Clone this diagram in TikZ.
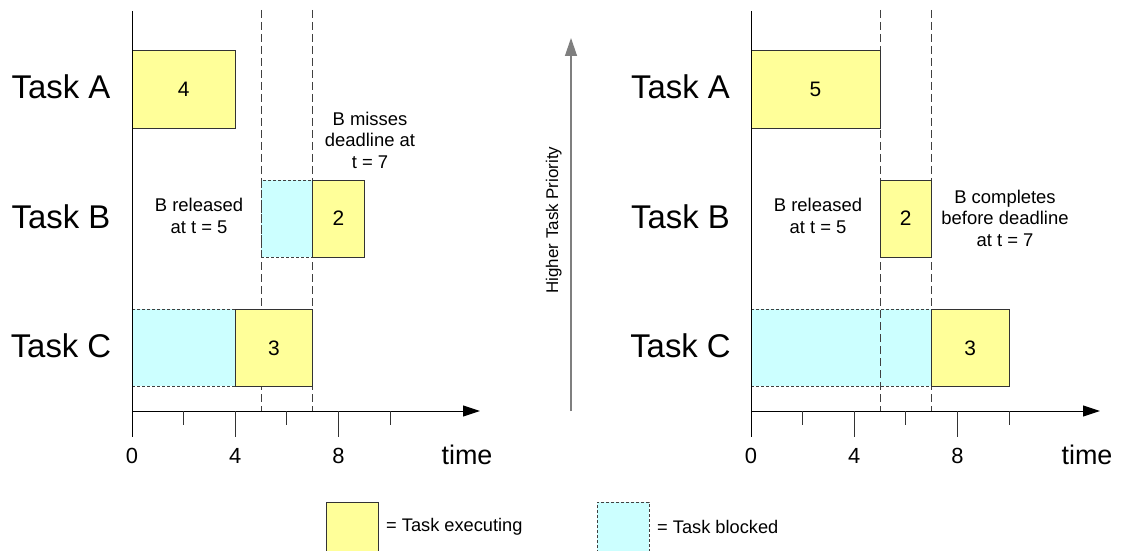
\documentclass[tikz,border=0pt]{standalone}
\usepackage{fontspec}
\setmainfont{Liberation Sans}
\usetikzlibrary{arrows.meta}

\definecolor{execfill}{HTML}{FFFF99}
\definecolor{blockfill}{HTML}{CCFFFF}
\definecolor{edgedark}{HTML}{333333}
\definecolor{guidegray}{HTML}{404040}
\definecolor{prioritygray}{HTML}{7F7F7F}

\tikzset{
  execbox/.style={draw=edgedark, line width=0.9bp, fill=execfill, inner sep=0pt},
  blockbox/.style={draw=guidegray, line width=0.8bp, dash pattern=on 3bp off 2bp,
    fill=blockfill, inner sep=0pt},
  guide/.style={draw=guidegray, line width=0.9bp, dash pattern=on 8bp off 4bp},
  axisline/.style={draw=black, line width=1bp},
  timearrow/.style={axisline, -{Triangle[length=17bp,width=11bp]}},
  majortick/.style={draw=black!80, line width=0.9bp},
  tasklabel/.style={anchor=base, inner sep=0pt, font=\fontsize{33}{38}\selectfont},
  boxnum/.style={anchor=base, inner sep=0pt, font=\fontsize{21}{24}\selectfont},
  ticklabel/.style={anchor=base, inner sep=0pt, font=\fontsize{22}{26}\selectfont},
  timelabel/.style={anchor=base, inner sep=0pt, font=\fontsize{27}{30}\selectfont},
  note/.style={align=center, inner sep=0pt, font=\fontsize{18.5}{21.5}\selectfont},
  legendtext/.style={anchor=west, inner sep=0pt, font=\fontsize{18.3}{21}\selectfont},
}

\begin{document}
\begin{tikzpicture}[x=1bp, y=-1bp]
\clip (0,0) rectangle (1122,551);
\fill[white] (0,0) rectangle (1122,551);

% ---------- left schedule: A runs first, B misses its deadline ----------
\begin{scope}[shift={(132,0)}]
  \def\u{25.8}
  % blocked intervals
  \node[blockbox, minimum width={2*\u bp}, minimum height=77bp] (LBb) at (6*\u,218.5) {};
  \node[blockbox, minimum width={4*\u bp}, minimum height=77bp] (LCb) at (2*\u,347.5) {};
  % release and deadline guides
  \coordinate (L5top) at (5*\u,10);  \coordinate (L5bot) at (5*\u,411);
  \coordinate (L7top) at (7*\u,10);  \coordinate (L7bot) at (7*\u,411);
  \draw[guide] (L5top) -- (L5bot);
  \draw[guide] (L7top) -- (L7bot);
  % executing intervals
  \node[execbox, minimum width={4*\u bp}, minimum height=78bp] (LA) at (2*\u,89) {};
  \node[boxnum] at ([yshift=-7.5bp]LA.center) {4};
  \node[execbox, minimum width={2*\u bp}, minimum height=77bp] (LBe) at (8*\u,218.5) {};
  \node[boxnum] at ([yshift=-7.5bp]LBe.center) {2};
  \node[execbox, minimum width={3*\u bp}, minimum height=77bp] (LCe) at (5.5*\u,347.5) {};
  \node[boxnum] at ([yshift=-7.5bp]LCe.center) {3};
  % axes
  \coordinate (LO) at (0,411);
  \coordinate (Ltop) at (0,11);
  \coordinate (Lbot) at (0,437);
  \coordinate (Lend) at (348,411);
  \draw[axisline] (Ltop) -- (Lbot);
  \draw[timearrow] (LO) -- (Lend);
  \foreach \t in {4,8} \draw[majortick] (\t*\u,411) -- (\t*\u,437);
  \foreach \t in {2,6,10} \draw[majortick] (\t*\u,411) -- (\t*\u,425);
  \foreach \t in {0,4,8} \node[ticklabel] at (\t*\u,463) {\t};
  \node[timelabel] at (335,464) {time};
  % annotations
  \node[note] (Lrel) at (67,216) {B released\\at t = 5};
  \node[note] (Lmiss) at (238,140) {B misses\\deadline at\\t = 7};
\end{scope}
\node[tasklabel] (LtA) at (61,98.5) {Task A};
\node[tasklabel] (LtB) at (61,228.5) {Task B};
\node[tasklabel] (LtC) at (61,357.5) {Task C};

% ---------- priority arrow between the schedules ----------
\coordinate (Plow) at (571,411);
\coordinate (Phigh) at (571,38);
\draw[draw=prioritygray, line width=1.3bp, -{Triangle[length=18bp,width=12bp]}] (Plow) -- (Phigh);
\node[rotate=90, anchor=base, inner sep=0pt, font=\fontsize{17}{20}\selectfont] (Ptext) at (558,220) {Higher Task Priority};

% ---------- right schedule: B preempts C and meets its deadline ----------
\begin{scope}[shift={(751,0)}]
  \def\u{25.8}
  \node[blockbox, minimum width={7*\u bp}, minimum height=77bp] (RCb) at (3.5*\u,347.5) {};
  \coordinate (R5top) at (5*\u,10);  \coordinate (R5bot) at (5*\u,411);
  \coordinate (R7top) at (7*\u,10);  \coordinate (R7bot) at (7*\u,411);
  \draw[guide] (R5top) -- (R5bot);
  \draw[guide] (R7top) -- (R7bot);
  \node[execbox, minimum width={5*\u bp}, minimum height=78bp] (RA) at (2.5*\u,89) {};
  \node[boxnum] at ([yshift=-7.5bp]RA.center) {5};
  \node[execbox, minimum width={2*\u bp}, minimum height=77bp] (RB) at (6*\u,218.5) {};
  \node[boxnum] at ([yshift=-7.5bp]RB.center) {2};
  \node[execbox, minimum width={3*\u bp}, minimum height=77bp] (RCe) at (8.5*\u,347.5) {};
  \node[boxnum] at ([yshift=-7.5bp]RCe.center) {3};
  \coordinate (RO) at (0,411);
  \coordinate (Rtop) at (0,11);
  \coordinate (Rbot) at (0,437);
  \coordinate (Rend) at (349,411);
  \draw[axisline] (Rtop) -- (Rbot);
  \draw[timearrow] (RO) -- (Rend);
  \foreach \t in {4,8} \draw[majortick] (\t*\u,411) -- (\t*\u,437);
  \foreach \t in {2,6,10} \draw[majortick] (\t*\u,411) -- (\t*\u,425);
  \foreach \t in {0,4,8} \node[ticklabel] at (\t*\u,463) {\t};
  \node[timelabel] at (336,464) {time};
  \node[note] (Rrel) at (67,216) {B released\\at t = 5};
  \node[note] (Rdone) at (254,218) {B completes\\before deadline\\at t = 7};
\end{scope}
\node[tasklabel] (RtA) at (680.5,98.5) {Task A};
\node[tasklabel] (RtB) at (680.5,228.5) {Task B};
\node[tasklabel] (RtC) at (680.5,357.5) {Task C};

% ---------- legend ----------
\node[execbox, minimum width=52bp, minimum height=58bp] (Kexec) at (352,531) {};
\node[legendtext] (Kexect) at (386,527) {= Task executing};
\node[blockbox, minimum width=52bp, minimum height=58bp] (Kblock) at (623,531) {};
\node[legendtext] (Kblockt) at (657,527) {= Task blocked};
\end{tikzpicture}
\end{document}
